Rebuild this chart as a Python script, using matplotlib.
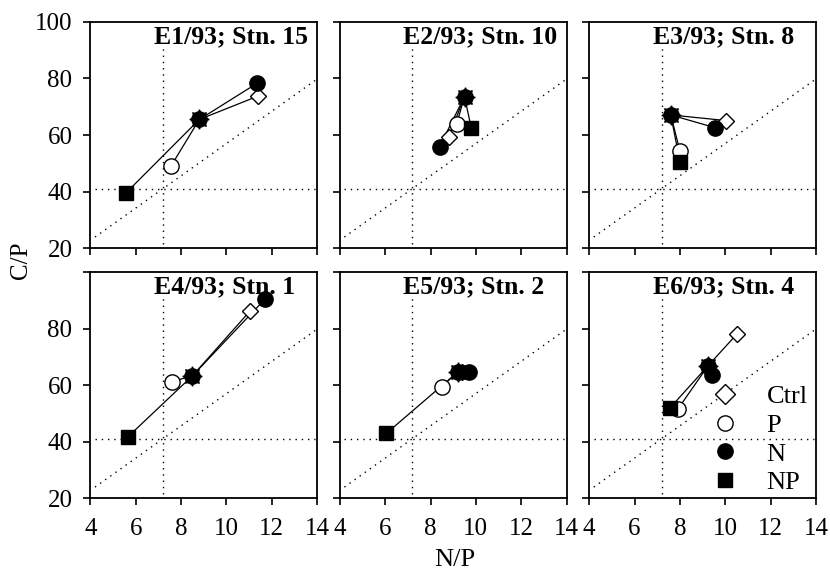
import matplotlib
matplotlib.use("Agg")
import matplotlib.pyplot as plt
from matplotlib.lines import Line2D
import numpy as np

plt.rcParams["font.family"] = ["Liberation Serif", "DejaVu Serif"]

# panel titles
titles = ["E1/93; Stn. 15", "E2/93; Stn. 10", "E3/93; Stn. 8",
          "E4/93; Stn. 1", "E5/93; Stn. 2", "E6/93; Stn. 4"]

# initial (star) N/P and C/P
start_np = [8.8, 9.5, 7.6, 8.5, 9.2, 9.25]
start_cp = [65.5, 73.6, 67.1, 63.3, 64.6, 66.9]

# treatments
ctrl_np = [11.4, 8.8, 10.05, 11.05, 9.4, 10.5]
ctrl_cp = [73.8, 59.2, 65.1, 86.3, 64.8, 77.9]
p_np = [7.55, 9.15, 8.0, 7.6, 8.5, 7.9]
p_cp = [49.0, 63.8, 54.4, 61.2, 59.5, 51.4]
n_np = [11.35, 8.4, 9.55, 11.7, 9.7, 9.4]
n_cp = [78.3, 55.9, 62.6, 90.4, 64.6, 63.7]
np_np = [5.55, 9.8, 8.0, 5.65, 6.05, 7.55]
np_cp = [39.4, 62.4, 50.6, 41.7, 42.9, 51.8]

# reference lines
np_limit = 7.2
cp_limit = 41
cn_ratio = 5.7

styles = {
    "Ctrl": dict(marker="D", markersize=8.5, mfc="white", mec="black"),
    "P": dict(marker="o", markersize=11, mfc="white", mec="black"),
    "N": dict(marker="o", markersize=11, mfc="black", mec="black"),
    "NP": dict(marker="s", markersize=10, mfc="black", mec="black"),
}
treat = [("Ctrl", ctrl_np, ctrl_cp), ("P", p_np, p_cp),
         ("N", n_np, n_cp), ("NP", np_np, np_cp)]

fig, axes = plt.subplots(2, 3, figsize=(8.3, 5.76), dpi=100)
fig.subplots_adjust(left=0.109, right=0.983, top=0.962, bottom=0.135,
                    wspace=0.10, hspace=0.105)

xs = np.array([4.2, 13.95])
for i, ax in enumerate(axes.flat):
    # dotted reference lines
    ax.plot([np_limit, np_limit], [21.5, 92], color="black", lw=1,
            ls=(0, (1, 3.5)), zorder=1)
    ax.plot([4.2, 13.9], [cp_limit, cp_limit], color="black", lw=1,
            ls=(0, (1, 3.5)), zorder=1)
    ax.plot(xs, cn_ratio * xs, color="black", lw=1, ls=(0, (1, 3.5)), zorder=1)

    for name, tx, ty in treat:
        ax.plot([start_np[i], tx[i]], [start_cp[i], ty[i]], color="black",
                lw=0.9, zorder=2)
        ax.plot(tx[i], ty[i], ls="none", mew=1, zorder=3, **styles[name])
    # initial point: black burst
    ax.plot(start_np[i], start_cp[i], marker=(8, 1, 0), markersize=14,
            color="black", ls="none", zorder=4)
    ax.plot(start_np[i], start_cp[i], marker="o", markersize=11,
            color="black", ls="none", zorder=4)

    ax.text(0.28, 0.985, titles[i], transform=ax.transAxes, ha="left",
            va="top", fontsize=18.5, fontweight="bold")

    ax.set_xlim(4, 14)
    ax.set_ylim(20, 100)
    ax.set_xticks([4, 6, 8, 10, 12, 14])
    ax.set_yticks([20, 40, 60, 80, 100])
    ax.tick_params(direction="out", length=5, width=1.2, labelsize=18)
    ax.tick_params(axis="x", pad=9)
    ax.tick_params(axis="y", pad=8)
    for s in ax.spines.values():
        s.set_linewidth(1.3)
    r, c = divmod(i, 3)
    if r == 0:
        ax.set_xticklabels([])
    if c != 0:
        ax.set_yticklabels([])
    elif r == 1:
        ax.set_yticklabels(["20", "40", "60", "80", ""])

handles = [Line2D([], [], ls="none", mew=1, **styles[k]) for k, _, _ in treat]
handles[0].set_markersize(10)
axes[1, 2].legend(handles, [k for k, _, _ in treat], loc="lower right",
                  frameon=False, fontsize=19, handlelength=1.0,
                  handletextpad=1.08, labelspacing=0.2,
                  borderaxespad=0.0, bbox_to_anchor=(1.01, -0.03))

fig.text(0.025, 0.548, "C/P", rotation=90, fontsize=18, ha="center",
         va="center")
fig.text(0.548, 0.027, "N/P", fontsize=19, ha="center", va="center")

fig.savefig("out.png", dpi=100)
